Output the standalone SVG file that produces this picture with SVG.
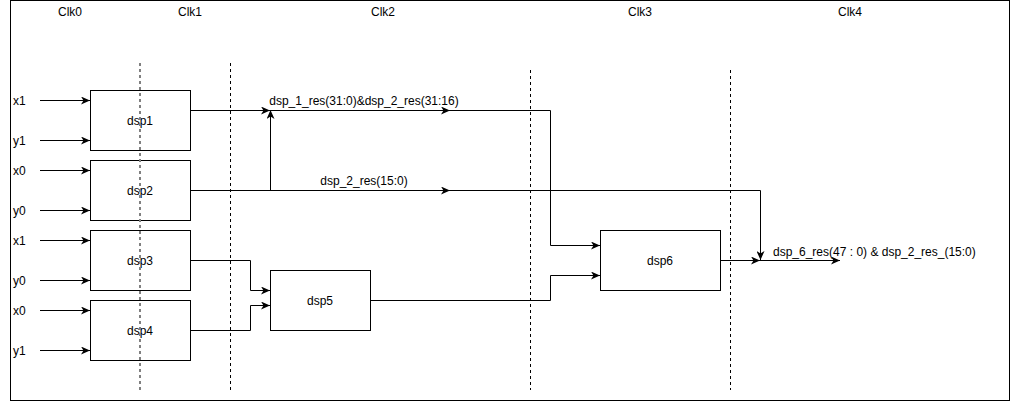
<svg xmlns="http://www.w3.org/2000/svg" width="1011" height="402" viewBox="0 0 1011 402">
<defs>
<marker id="arr" viewBox="0 0 10 8" refX="9" refY="4" markerWidth="10" markerHeight="8" markerUnits="userSpaceOnUse" orient="auto">
<path d="M0,0 L9,4 L0,8 L2.5,4 Z" fill="#000"/>
</marker>
<style>
text{font-family:"Liberation Sans",Arial,sans-serif;font-size:12px;fill:#000}
.box{fill:#fff;stroke:#000;stroke-width:1}
.c{fill:none;stroke:#000;stroke-width:1}
.a{marker-end:url(#arr)}
.d{fill:none;stroke:#000;stroke-width:1;stroke-dasharray:3 3}
.dg{fill:none;stroke:#808080;stroke-width:2;stroke-dasharray:3 3}
.m{text-anchor:middle}
</style>
</defs>
<rect x="10.5" y="0.5" width="999" height="400" fill="#fff" stroke="#000"/>
<g id="clocks">
<text x="70" y="16" class="m">Clk0</text>
<text x="190" y="16" class="m">Clk1</text>
<text x="383" y="16" class="m">Clk2</text>
<text x="640" y="16" class="m">Clk3</text>
<text x="850" y="16" class="m">Clk4</text>
</g>
<g id="dividers">
<line x1="230.5" y1="63" x2="230.5" y2="390" class="d"/>
<line x1="530.5" y1="70" x2="530.5" y2="390" class="d"/>
<line x1="730.5" y1="70" x2="730.5" y2="390" class="d"/>
</g>
<g id="inputs">
<text x="13" y="105">x1</text>
<text x="13" y="145">y1</text>
<text x="13" y="175">x0</text>
<text x="13" y="215">y0</text>
<text x="13" y="245">x1</text>
<text x="13" y="285">y0</text>
<text x="13" y="315">x0</text>
<text x="13" y="355">y1</text>
</g>
<g id="connectors">
<path class="c a" d="M40,100.5 H90"/>
<path class="c a" d="M40,140.5 H90"/>
<path class="c a" d="M40,170.5 H90"/>
<path class="c a" d="M40,210.5 H90"/>
<path class="c a" d="M40,240.5 H90"/>
<path class="c a" d="M40,280.5 H90"/>
<path class="c a" d="M40,310.5 H90"/>
<path class="c a" d="M40,350.5 H90"/>
<path class="c a" d="M190,110.5 H270"/>
<path class="c a" d="M270,110.5 H450"/>
<path class="c a" d="M450,110.5 H550.5 V245.5 H600"/>
<path class="c a" d="M270.5,190.5 V110"/>
<path class="c a" d="M190,190.5 H450"/>
<path class="c a" d="M450,190.5 H760.5 V260"/>
<path class="c a" d="M190,260.5 H250.5 V290.5 H270"/>
<path class="c a" d="M190,330.5 H250.5 V305.5 H270"/>
<path class="c a" d="M370,300.5 H550.5 V275.5 H600"/>
<path class="c a" d="M720,260.5 H760"/>
<path class="c a" d="M760,260.5 H840"/>
<text x="364" y="105" class="m">dsp_1_res(31:0)&amp;dsp_2_res(31:16)</text>
<text x="364" y="185" class="m">dsp_2_res(15:0)</text>
<text x="773" y="256">dsp_6_res(47 : 0) &amp; dsp_2_res_(15:0)</text>
</g>
<g id="dsp1"><rect x="90.5" y="90.5" width="100" height="60" class="box"/><text x="140" y="125" class="m">dsp1</text></g>
<g id="dsp2"><rect x="90.5" y="160.5" width="100" height="60" class="box"/><text x="140" y="195" class="m">dsp2</text></g>
<g id="dsp3"><rect x="90.5" y="230.5" width="100" height="60" class="box"/><text x="140" y="265" class="m">dsp3</text></g>
<g id="dsp4"><rect x="90.5" y="300.5" width="100" height="60" class="box"/><text x="140" y="335" class="m">dsp4</text></g>
<g id="dsp5"><rect x="270.5" y="270.5" width="100" height="60" class="box"/><text x="320" y="305" class="m">dsp5</text></g>
<g id="dsp6"><rect x="600.5" y="230.5" width="120" height="60" class="box"/><text x="660" y="265" class="m">dsp6</text></g>
<g id="divider-clk1">
<line x1="140" y1="63" x2="140" y2="390" class="dg"/>
</g>
</svg>
